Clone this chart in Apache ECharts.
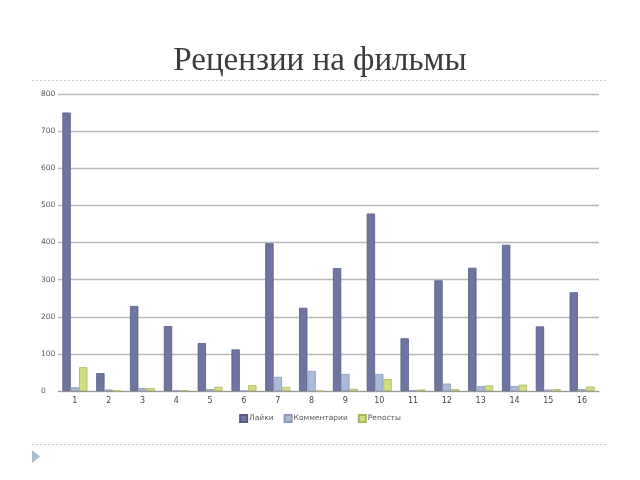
<!DOCTYPE html>
<html><head><meta charset="utf-8">
<script src="https://cdn.jsdelivr.net/npm/echarts@6/dist/echarts.min.js"></script>
<style>html,body{margin:0;padding:0;background:#fff}#c{width:640px;height:480px}</style>
</head><body><div id="c"></div>
<script>
const categories = ['1','2','3','4','5','6','7','8','9','10','11','12','13','14','15','16'];
const likes =    [750, 48, 229, 175, 129, 112, 398, 224, 331, 478, 142, 298, 332, 394, 174, 266];
const comments = [10, 4, 8, 2, 5, 0, 38, 54, 46, 46, 2, 20, 13, 13, 4, 5];
const reposts =  [64, 0, 8, 2, 11, 16, 11, 0, 6, 32, 4, 5, 15, 17, 5, 12];
const seriesNames = ['Лайки', 'Комментарии', 'Репосты'];
const yTicks = {min: 0, max: 800, interval: 100};

const chart = echarts.init(document.getElementById('c'), null, {renderer: 'canvas'});
const colors = ['#6E75A1', '#A9BBD6', '#D3DE84'];
const borders = ['#565C85', '#8A9BB5', '#A9B560'];
const mk = (name, data, i) => ({
  name, type: 'bar', data,
  barGap: '0%', barCategoryGap: '26%',
  itemStyle: {color: colors[i], borderColor: borders[i], borderWidth: 0.8},
  animation: false
});
chart.setOption({
  animation: false,
  title: {
    text: 'Рецензии на фильмы', left: 'center', top: 40,
    textStyle: {fontFamily: 'Liberation Serif', fontSize: 33, fontWeight: 'normal', color: '#3c3c3c'}
  },
  legend: {
    data: seriesNames, bottom: 52, left: 'center',
    itemWidth: 7, itemHeight: 7, itemGap: 10,
    icon: 'rect',
    textStyle: {fontSize: 7.5, color: '#555', fontFamily: 'DejaVu Sans', padding: [0,0,0,-3]}
  },
  grid: {left: 58, right: 41, top: 94, bottom: 89},
  xAxis: {
    type: 'category', data: categories,
    axisLine: {lineStyle: {color: '#999', width: 1}},
    axisTick: {show: false},
    axisLabel: {fontSize: 8, color: '#444', margin: 6, fontFamily: 'DejaVu Sans'}
  },
  yAxis: {
    type: 'value', min: yTicks.min, max: yTicks.max, interval: yTicks.interval,
    axisLine: {show: false}, axisTick: {show: false},
    axisLabel: {fontSize: 7.5, color: '#555', align: 'left', margin: 17, fontFamily: 'DejaVu Sans'},
    splitLine: {lineStyle: {color: '#b8b8b8', width: 1.3}}
  },
  series: [mk(seriesNames[0], likes, 0), mk(seriesNames[1], comments, 1), mk(seriesNames[2], reposts, 2)],
  graphic: [
    {type: 'line', shape: {x1: 32, y1: 80.5, x2: 607, y2: 80.5}, style: {stroke: '#c4c4c4', lineWidth: 1, lineDash: [2, 2]}},
    {type: 'line', shape: {x1: 32, y1: 444.5, x2: 607, y2: 444.5}, style: {stroke: '#c4c4c4', lineWidth: 1, lineDash: [2, 2]}},
    {type: 'polygon', shape: {points: [[32, 450], [40, 456.5], [32, 463]]}, style: {fill: '#a8bccb'}}
  ]
});
</script></body></html>
